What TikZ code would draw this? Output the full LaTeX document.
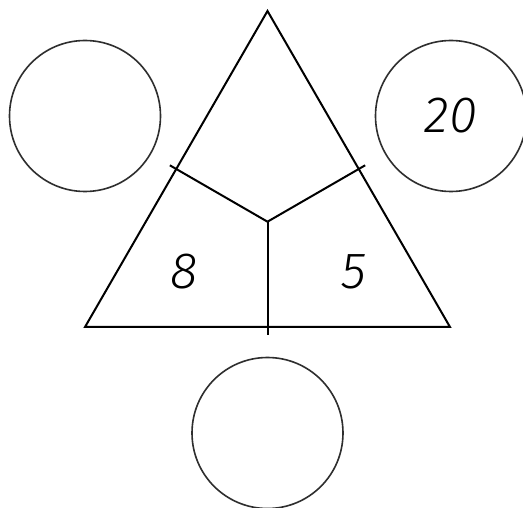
\documentclass[tikz,border=0pt]{standalone}
\usepackage{fontspec}
\newfontfamily\digitfont{Fira Sans Light Italic}
\usetikzlibrary{calc}
\definecolor{cline}{HTML}{000000}
\definecolor{cring}{HTML}{2E2E2E}
\tikzset{
  every picture/.style={line width=2pt},
  ring/.style={circle, draw=cring, line width=1.6pt, minimum size=151pt, inner sep=0pt, font=\digitfont\fontsize{51}{51}\selectfont},
  digit/.style={font=\digitfont\fontsize{51}{51}\selectfont, inner sep=0pt},
  edge/.style={draw=cline, line width=2pt},
}

\begin{document}
\begin{tikzpicture}[x=1pt, y=-1pt]
  \fill[white] (0,0) rectangle (523,508);
  \useasboundingbox (0,0) rectangle (523,508);
  % triangle corners and centre
  \coordinate (apex) at (267.5,11);
  \coordinate (bl) at (85,327);
  \coordinate (br) at (450,327);
  \coordinate (ctr) at (267.5,221.7);
  \coordinate (midL) at ($(apex)!0.5!(bl)$);
  \coordinate (midR) at ($(apex)!0.5!(br)$);
  \coordinate (midB) at ($(bl)!0.5!(br)$);
  \draw[edge] (apex) -- (bl) -- (br) -- cycle;
  \draw[edge] (ctr) -- ($(ctr)!1.07!(midL)$);
  \draw[edge] (ctr) -- ($(ctr)!1.07!(midR)$);
  \draw[edge] (ctr) -- ($(ctr)!1.075!(midB)$);
  % numbers in the parts
  \node[digit] (left) at (184,272) {8};
  \node[digit] (right) at (354,272) {5};
  % the three circles
  \node[ring] (ringL) at (85,116) {};
  \node[ring] (ringR) at (451,116) {20};
  \node[ring] (ringB) at (267.5,433) {};
\end{tikzpicture}
\end{document}
